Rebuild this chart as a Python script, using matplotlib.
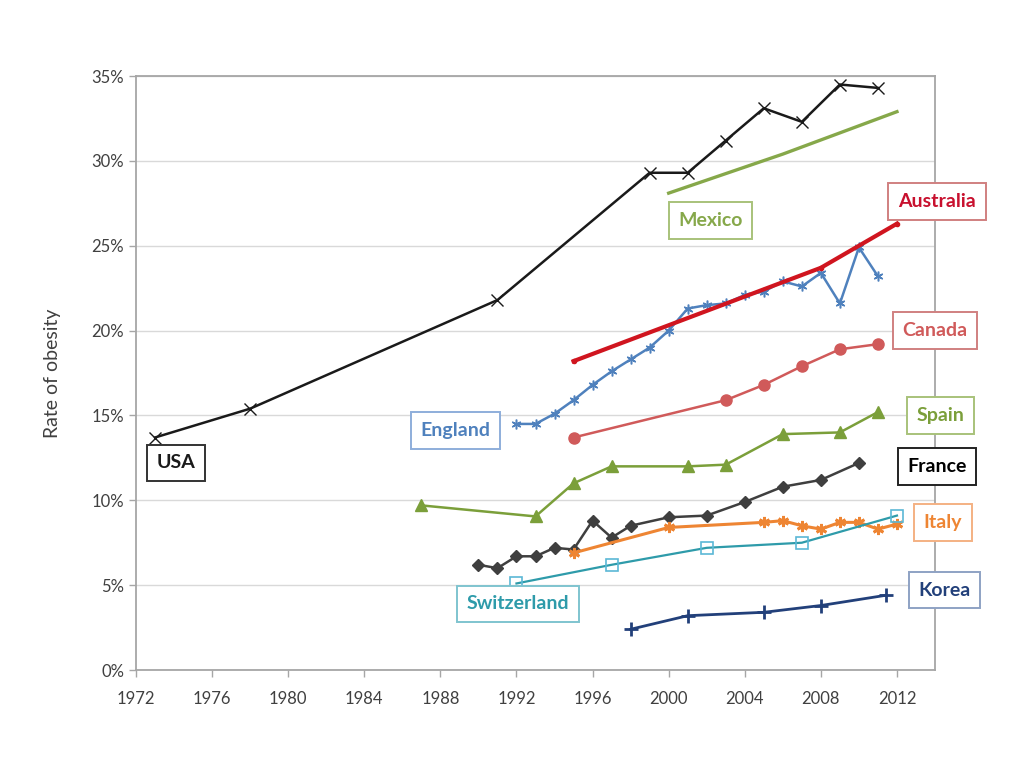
import matplotlib
matplotlib.use("Agg")
import matplotlib.pyplot as plt
from matplotlib.ticker import FuncFormatter, MultipleLocator

plt.rcParams['font.family'] = ['Lato', 'DejaVu Sans']

# ---- data (years, % obese) ----
usa_years = [1973, 1978, 1991, 1999, 2001, 2003, 2005, 2007, 2009, 2011]
usa_vals = [13.7, 15.4, 21.8, 29.3, 29.3, 31.2, 33.1, 32.3, 34.5, 34.3]

mexico_years = [2000, 2006, 2012]
mexico_vals = [28.1, 30.4, 32.9]

australia_years = [1995, 2008, 2012]
australia_vals = [18.2, 23.7, 26.3]

england_years = [1992, 1993, 1994, 1995, 1996, 1997, 1998, 1999, 2000, 2001, 2002,
                 2003, 2004, 2005, 2006, 2007, 2008, 2009, 2010, 2011]
england_vals = [14.5, 14.5, 15.1, 15.9, 16.8, 17.6, 18.3, 19.0, 20.0, 21.3, 21.5,
                21.6, 22.1, 22.3, 22.9, 22.6, 23.4, 21.6, 24.9, 23.2]

canada_years = [1995, 2003, 2005, 2007, 2009, 2011]
canada_vals = [13.7, 15.9, 16.8, 17.9, 18.9, 19.2]

spain_years = [1987, 1993, 1995, 1997, 2001, 2003, 2006, 2009, 2011]
spain_vals = [9.7, 9.05, 11.0, 12.0, 12.0, 12.1, 13.9, 14.0, 15.2]

france_years = [1990, 1991, 1992, 1993, 1994, 1995, 1996, 1997, 1998, 2000, 2002,
                2004, 2006, 2008, 2010]
france_vals = [6.2, 6.0, 6.7, 6.7, 7.2, 7.1, 8.8, 7.8, 8.5, 9.0, 9.1,
               9.9, 10.8, 11.2, 12.2]

italy_years = [1995, 2000, 2005, 2006, 2007, 2008, 2009, 2010, 2011, 2012]
italy_vals = [6.9, 8.4, 8.7, 8.8, 8.5, 8.3, 8.7, 8.7, 8.3, 8.6]

switzerland_years = [1992, 1997, 2002, 2007, 2012]
switzerland_vals = [5.1, 6.2, 7.2, 7.5, 9.1]

korea_years = [1998, 2001, 2005, 2008, 2011.4]
korea_vals = [2.4, 3.2, 3.4, 3.8, 4.4]

x_ticks = [1972, 1976, 1980, 1984, 1988, 1992, 1996, 2000, 2004, 2008, 2012]

# label text, position (year, %) of the box centre, colour
labels = ["USA", "England", "Mexico", "Australia", "Canada", "Spain",
          "France", "Italy", "Korea", "Switzerland"]
label_x = [1974.1, 1988.8, 2002.2, 2014.1, 2014.0, 2014.3, 2014.1, 2014.4, 2014.5, 1992.1]
label_y = [12.2, 14.1, 26.5, 27.6, 20.0, 15.0, 12.0, 8.7, 4.7, 3.9]

fig = plt.figure(figsize=(10.24, 7.68), dpi=100)
ax = fig.add_axes([0.1328, 0.1276, 0.7803, 0.7734])

c_usa = '#1a1a1a'
c_mex = '#86A84A'
c_aus = '#D0151F'
c_eng = '#4F81BD'
c_can = '#D05A5A'
c_spa = '#7B9F3A'
c_fra = '#3F3F3F'
c_ita = '#EE8533'
c_swi = '#2E9BAA'
c_kor = '#22407A'

ax.plot(usa_years, usa_vals, color=c_usa, lw=1.8, marker='x', ms=8, mew=1.0, zorder=5)
ax.plot(mexico_years, mexico_vals, color=c_mex, lw=2.4, zorder=4)
ax.plot(australia_years, australia_vals, color=c_aus, lw=3.0, marker='o', ms=3, zorder=5)
ax.plot(england_years, england_vals, color=c_eng, lw=1.8, marker=(6, 2, 0), ms=7, mew=1.1, zorder=4)
ax.plot(canada_years, canada_vals, color=c_can, lw=1.8, marker='o', ms=8, zorder=4)
ax.plot(spain_years, spain_vals, color=c_spa, lw=1.8, marker='^', ms=8, zorder=4)
ax.plot(france_years, france_vals, color=c_fra, lw=1.8, marker='D', ms=6, zorder=4)
ax.plot(italy_years, italy_vals, color=c_ita, lw=2.2, marker=(6, 2, 0), ms=8, mew=2.0, zorder=4)
ax.plot(switzerland_years, switzerland_vals, color=c_swi, lw=1.6, marker='s', ms=8,
        mfc='none', mec='#5BB8D6', mew=1.2, zorder=4)
ax.plot(korea_years, korea_vals, color=c_kor, lw=2.0, marker='+', ms=10, mew=2.0, zorder=4)

colors = [c_usa, c_eng, c_mex, '#C8102E', c_can, c_spa, '#000000', c_ita, c_kor, c_swi]
edges = ['#333333', '#8EAEDB', '#A8C27A', '#D08080', '#D08080', '#A8C27A', '#222222',
         '#F4B183', '#8EA2C4', '#7FC4CF']
for t, x, y, c, e in zip(labels, label_x, label_y, colors, edges):
    ax.text(x, y, t, color=c, fontsize=14, fontweight='bold', ha='center', va='center',
            zorder=10, clip_on=False,
            bbox=dict(boxstyle='square,pad=0.5', fc='white', ec=e, lw=1.4))

ax.set_xlim(1972, 2014)
ax.set_ylim(0, 35)
ax.set_xticks(x_ticks)
ax.yaxis.set_major_locator(MultipleLocator(5))
ax.yaxis.set_major_formatter(FuncFormatter(lambda v, p: f"{int(v)}%"))
ax.grid(axis='y', color='#D9D9D9', lw=1.0)
ax.set_axisbelow(True)
for s in ax.spines.values():
    s.set_color('#A6A6A6')
    s.set_linewidth(1.3)
ax.tick_params(axis='both', colors='#A6A6A6', labelcolor='#404040', labelsize=12,
               length=5, width=1.0)
ax.tick_params(axis='x', pad=10)
ax.set_ylabel("Rate of obesity", fontsize=14, color='#404040', labelpad=22)

fig.savefig("out.png", dpi=100)
